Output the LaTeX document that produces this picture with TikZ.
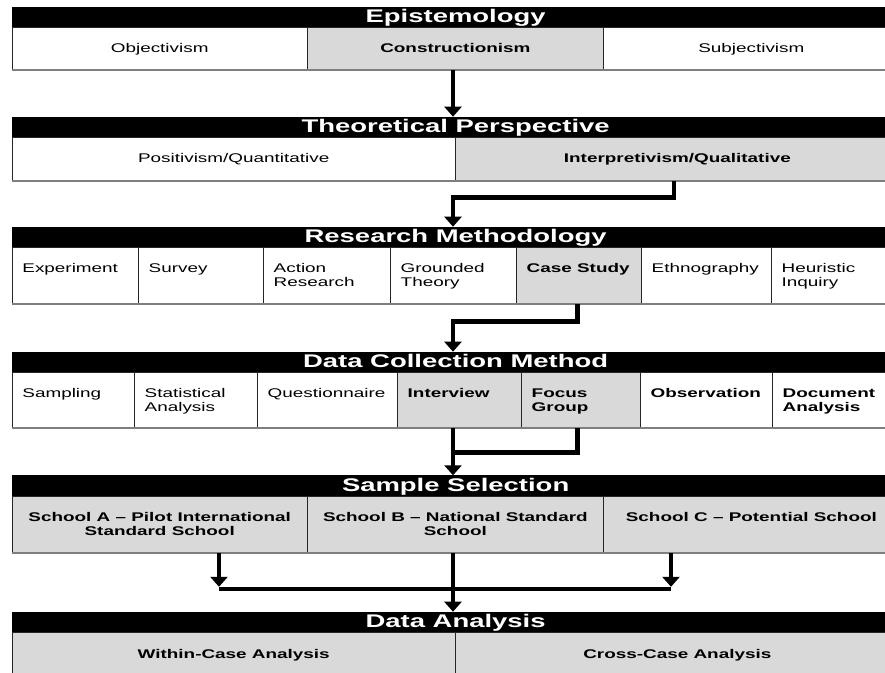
\documentclass[tikz,border=0pt]{standalone}
\usepackage{fontspec}
\setmainfont{Liberation Sans}
\usetikzlibrary{arrows.meta,calc}
\definecolor{cellgray}{HTML}{D9D9D9}
\definecolor{edgegray}{HTML}{7F7F7F}
\newcommand{\wt}[1]{\scalebox{1.5}[1]{#1}}
\newcommand{\tl}[2]{\wt{\begin{tabular}[t]{@{}l@{}}#1\\#2\end{tabular}}}
\newcommand{\tc}[2]{\wt{\begin{tabular}[t]{@{}c@{}}#1\\#2\end{tabular}}}
\tikzset{
  hdr/.style={fill=black, draw=black, line width=0.6pt, inner sep=0pt, anchor=north west,
    minimum width=887.3pt, minimum height=20pt},
  cellbox/.style={draw=black!85, line width=0.7pt, inner sep=0pt, anchor=north west, fill=white},
  shaded/.style={cellbox, fill=cellgray},
  htxt/.style={inner sep=0pt, anchor=base, text=white, font=\fontsize{18.3}{20}\selectfont\bfseries},
  ltxt/.style={inner sep=0pt, anchor=base west, font=\fontsize{12.6}{14.6}\selectfont},
  ctxt/.style={inner sep=0pt, anchor=base, font=\fontsize{12.6}{14.6}\selectfont},
  bltxt/.style={ltxt, font=\fontsize{12.6}{14.4}\selectfont\bfseries},
  bctxt/.style={ctxt, font=\fontsize{12.6}{14}\selectfont\bfseries},
  bottomline/.style={draw=edgegray, line width=1.8pt},
  flow/.style={line width=4.5pt, line join=miter, -{Triangle[width=17pt,length=10pt]}},
  flowline/.style={line width=4.5pt, line join=miter},
}
\begin{document}
\begin{tikzpicture}[x=1pt,y=-1pt]
\useasboundingbox (0,0) rectangle (885,672);
\fill[white] (0,0) rectangle (885,672);
\clip (0,0) rectangle (885,672);

% ---------- Row 1: Epistemology ----------
\node[hdr] (h1) at (11.7,6.7) {};
\node[htxt] (h1t) at ([yshift=-16pt]h1.north) {\wt{Epistemology}};
\node[cellbox, minimum width=295.3pt, minimum height=42.3pt] (c11) at (11.7,26.7) {};
\node[shaded,  minimum width=296pt,   minimum height=42.3pt] (c12) at (307,26.7) {};
\node[cellbox, minimum width=296pt,   minimum height=42.3pt] (c13) at (603,26.7) {};
\draw[bottomline] (c11.south west) -- (c13.south east);
\node[ctxt]  (t11) at ([yshift=-25.8pt]c11.north) {\wt{Objectivism}};
\node[bctxt] (t12) at ([yshift=-25.8pt]c12.north) {\wt{Constructionism}};
\node[ctxt]  (t13) at ([yshift=-25.8pt]c13.north) {\wt{Subjectivism}};

% ---------- Row 2: Theoretical Perspective ----------
\node[hdr] (h2) at (11.7,116.7) {};
\node[htxt] (h2t) at ([yshift=-16pt]h2.north) {\wt{Theoretical Perspective}};
\node[cellbox, minimum width=443.3pt, minimum height=43.3pt] (c21) at (11.7,136.7) {};
\node[shaded,  minimum width=444pt,   minimum height=43.3pt] (c22) at (455,136.7) {};
\draw[bottomline] (c21.south west) -- (c22.south east);
\node[ctxt]  (t21) at ([yshift=-26pt]c21.north) {\wt{Positivism/Quantitative}};
\node[bctxt] (t22) at ([yshift=-26pt]c22.north) {\wt{Interpretivism/Qualitative}};

% ---------- Row 3: Research Methodology ----------
\node[hdr] (h3) at (11.7,226.7) {};
\node[htxt] (h3t) at ([yshift=-16pt]h3.north) {\wt{Research Methodology}};
\node[cellbox, minimum width=126.3pt, minimum height=56.6pt] (c31) at (11.7,246.7) {};
\node[cellbox, minimum width=125pt,   minimum height=56.6pt] (c32) at (138,246.7) {};
\node[cellbox, minimum width=127pt,   minimum height=56.6pt] (c33) at (263,246.7) {};
\node[cellbox, minimum width=126pt,   minimum height=56.6pt] (c34) at (390,246.7) {};
\node[shaded,  minimum width=125pt,   minimum height=56.6pt] (c35) at (516,246.7) {};
\node[cellbox, minimum width=130pt,   minimum height=56.6pt] (c36) at (641,246.7) {};
\node[cellbox, minimum width=128pt,   minimum height=56.6pt] (c37) at (771,246.7) {};
\draw[bottomline] (c31.south west) -- (c37.south east);
\node[ltxt]  (t31) at ([xshift=10.5pt,yshift=-25.6pt]c31.north west) {\wt{Experiment}};
\node[ltxt]  (t32) at ([xshift=10.5pt,yshift=-25.6pt]c32.north west) {\wt{Survey}};
\node[ltxt]  (t33) at ([xshift=10.5pt,yshift=-25.6pt]c33.north west) {\tl{Action}{Research}};
\node[ltxt]  (t34) at ([xshift=10.5pt,yshift=-25.6pt]c34.north west) {\tl{Grounded}{Theory}};
\node[bltxt] (t35) at ([xshift=10.5pt,yshift=-25.6pt]c35.north west) {\wt{Case Study}};
\node[ltxt]  (t36) at ([xshift=10.5pt,yshift=-25.6pt]c36.north west) {\wt{Ethnography}};
\node[ltxt]  (t37) at ([xshift=10.5pt,yshift=-25.6pt]c37.north west) {\tl{Heuristic}{Inquiry}};

% ---------- Row 4: Data Collection Method ----------
\node[hdr] (h4) at (11.7,351.7) {};
\node[htxt] (h4t) at ([yshift=-16pt]h4.north) {\wt{Data Collection Method}};
\node[cellbox, minimum width=122.3pt, minimum height=55.6pt] (c41) at (11.7,371.7) {};
\node[cellbox, minimum width=123pt,   minimum height=55.6pt] (c42) at (134,371.7) {};
\node[cellbox, minimum width=140pt,   minimum height=55.6pt] (c43) at (257,371.7) {};
\node[shaded,  minimum width=124pt,   minimum height=55.6pt] (c44) at (397,371.7) {};
\node[shaded,  minimum width=119pt,   minimum height=55.6pt] (c45) at (521,371.7) {};
\node[cellbox, minimum width=132pt,   minimum height=55.6pt] (c46) at (640,371.7) {};
\node[cellbox, minimum width=127pt,   minimum height=55.6pt] (c47) at (772,371.7) {};
\draw[bottomline] (c41.south west) -- (c47.south east);
\node[ltxt]  (t41) at ([xshift=10.5pt,yshift=-25.6pt]c41.north west) {\wt{Sampling}};
\node[ltxt]  (t42) at ([xshift=10.5pt,yshift=-25.6pt]c42.north west) {\tl{Statistical}{Analysis}};
\node[ltxt]  (t43) at ([xshift=10.5pt,yshift=-25.6pt]c43.north west) {\wt{Questionnaire}};
\node[bltxt] (t44) at ([xshift=10.5pt,yshift=-25.6pt]c44.north west) {\wt{Interview}};
\node[bltxt] (t45) at ([xshift=10.5pt,yshift=-25.6pt]c45.north west) {\tl{Focus}{Group}};
\node[bltxt] (t46) at ([xshift=10.5pt,yshift=-25.6pt]c46.north west) {\wt{Observation}};
\node[bltxt] (t47) at ([xshift=10.5pt,yshift=-25.6pt]c47.north west) {\tl{Document}{Analysis}};

% ---------- Row 5: Sample Selection ----------
\node[hdr, minimum height=20.5pt] (h5) at (11.7,475.3) {};
\node[htxt] (h5t) at ([yshift=-16.2pt]h5.north) {\wt{Sample Selection}};
\node[shaded, minimum width=295.3pt, minimum height=56.8pt] (c51) at (11.7,495.8) {};
\node[shaded, minimum width=296pt,   minimum height=56.8pt] (c52) at (307,495.8) {};
\node[shaded, minimum width=296pt,   minimum height=56.8pt] (c53) at (603,495.8) {};
\draw[bottomline] (c51.south west) -- (c53.south east);
\node[bctxt] (t51) at ([yshift=-25.7pt]c51.north) {\tc{School A -- Pilot International}{Standard School}};
\node[bctxt] (t52) at ([yshift=-25.7pt]c52.north) {\tc{School B -- National Standard}{School}};
\node[bctxt] (t53) at ([yshift=-25.7pt]c53.north) {\wt{School C -- Potential School}};

% ---------- Row 6: Data Analysis ----------
\node[hdr] (h6) at (11.7,611.7) {};
\node[htxt] (h6t) at ([yshift=-16pt]h6.north) {\wt{Data Analysis}};
\node[shaded, minimum width=443.3pt, minimum height=45pt] (c61) at (11.7,631.7) {};
\node[shaded, minimum width=444pt,   minimum height=45pt] (c62) at (455,631.7) {};
\node[bctxt] (t61) at ([yshift=-26.5pt]c61.north) {\wt{Within-Case Analysis}};
\node[bctxt] (t62) at ([yshift=-26.5pt]c62.north) {\wt{Cross-Case Analysis}};

% ---------- connectors ----------
\coordinate (xm) at (453,0);
\coordinate (xi) at (674,0);
\coordinate (xc) at (577.5,0);
\coordinate (xa) at (219,0);
\coordinate (xcc) at (671,0);
\coordinate (b2) at (0,197.5);
\coordinate (b3) at (0,321.5);
\coordinate (b4) at (0,452.5);
\coordinate (b5) at (0,589);

\draw[flow] (c12.south -| xm) -- (h2.north -| xm);
\draw[flow] (c22.south -| xi) |- (b2 -| xm) -- (h3.north -| xm);
\draw[flow] (c35.south -| xc) |- (b3 -| xm) -- (h4.north -| xm);
\draw[flow] (c44.south -| xm) -- (h5.north -| xm);
\draw[flowline] (c45.south -| xc) |- (b4 -| xm);
\draw[flow] (c52.south -| xm) -- (h6.north -| xm);
\draw[flow] (c51.south -| xa) -- ([yshift=2.2pt]b5 -| xa);
\draw[flow] (c53.south -| xcc) -- ([yshift=2.2pt]b5 -| xcc);
\draw[flowline] (b5 -| xa) -- (b5 -| xcc);
\end{tikzpicture}
\end{document}
